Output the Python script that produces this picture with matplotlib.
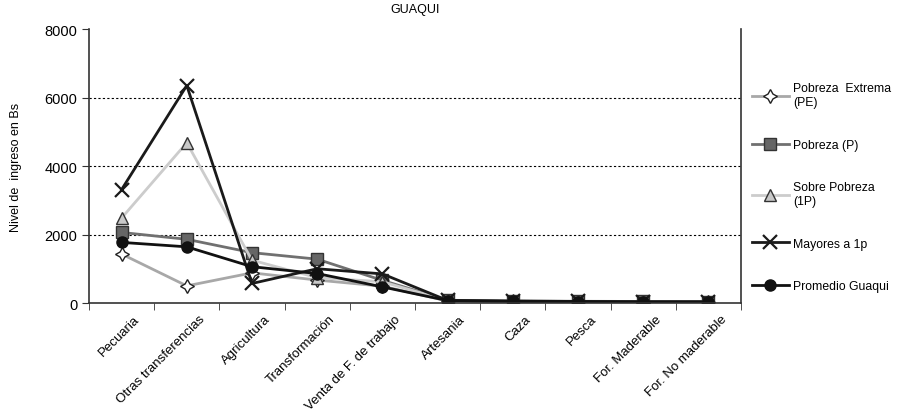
import matplotlib
matplotlib.use("Agg")
import matplotlib.pyplot as plt
import matplotlib.transforms as mtrans
from matplotlib import font_manager

# pick a narrow font if present
names = {f.name for f in font_manager.fontManager.ttflist}
fam = ['Liberation Sans Narrow', 'DejaVu Sans'] if 'Liberation Sans Narrow' in names else ['Liberation Sans', 'DejaVu Sans']
plt.rcParams['font.family'] = fam

categorias = ['Pecuaria', 'Otras transferencias', 'Agricultura', 'Transformación',
              'Venta de F. de trabajo', 'Artesania', 'Caza', 'Pesca',
              'For. Maderable', 'For. No maderable']

pobreza_extrema = [1430, 500, 880, 670, 490, 60, 45, 30, 10, 20]
pobreza = [2060, 1860, 1470, 1280, 660, 80, 60, 50, 45, 40]
sobre_pobreza = [2480, 4680, 1250, 740, 620, 70, 50, 40, 20, 30]
mayores_1p = [3310, 6350, 570, 1000, 850, 75, 55, 45, 35, 35]
promedio_guaqui = [1770, 1640, 1060, 860, 470, 70, 50, 40, 30, 30]

series = [
    ('Pobreza  Extrema\n(PE)', pobreza_extrema, '#a8a8a8', dict(marker=(4, 1, 0), markersize=10, markerfacecolor='white', markeredgecolor='#222222')),
    ('Pobreza (P)', pobreza, '#707070', dict(marker='s', markersize=8, markerfacecolor='#666666', markeredgecolor='#333333')),
    ('Sobre Pobreza\n(1P)', sobre_pobreza, '#cccccc', dict(marker='^', markersize=9, markerfacecolor='#c8c8c8', markeredgecolor='#333333')),
    ('Mayores a 1p', mayores_1p, '#1a1a1a', dict(marker='x', markersize=10, markeredgewidth=1.6, markeredgecolor='#1a1a1a')),
    ('Promedio Guaqui', promedio_guaqui, '#111111', dict(marker='o', markersize=8, markerfacecolor='#111111', markeredgecolor='#111111')),
]

fig = plt.figure(figsize=(9.05, 4.14), dpi=100)
ax = fig.add_axes([0.0983, 0.2657, 0.7205, 0.6618])

x = list(range(len(categorias)))
for label, vals, col, mk in series:
    ax.plot(x, vals, color=col, linewidth=2, label=label, **mk)

ax.set_xlim(-0.5, len(categorias) - 0.5)
ax.set_ylim(0, 8000)
ax.set_yticks([0, 2000, 4000, 6000, 8000])
for yv in [2000, 4000, 6000]:
    ax.axhline(yv, color='black', linestyle=(0, (2, 2)), linewidth=0.8, zorder=0)

ax.set_xticks(x)
ax.set_xticklabels(categorias, rotation=45, ha='right', rotation_mode='anchor', fontsize=9.5)
ax.tick_params(axis='x', length=0, pad=7)
shift = mtrans.ScaledTranslation(12 / 100, 0, fig.dpi_scale_trans)
for lbl in ax.get_xticklabels():
    lbl.set_transform(lbl.get_transform() + shift)
ax.set_xticks([i - 0.5 for i in range(len(categorias) + 1)], minor=True)
ax.tick_params(axis='x', which='minor', length=5, direction='out', color='#333333')
ax.tick_params(axis='y', labelsize=10.5, length=5, color='#333333')

for s in ['left', 'bottom', 'right']:
    ax.spines[s].set_color('#333333')
    ax.spines[s].set_linewidth(1.2)
ax.spines['top'].set_visible(False)

ax.set_ylabel('Nivel de  ingreso en Bs', fontsize=9, labelpad=16)
ax.set_title('GUAQUI', fontsize=9, pad=12)

leg = ax.legend(loc='upper left', bbox_to_anchor=(1.0, 0.845), frameon=False,
                fontsize=8.8, labelspacing=2.5, handlelength=3.0, handletextpad=0.35,
                borderaxespad=0.5)

fig.savefig('out.png', dpi=100)
